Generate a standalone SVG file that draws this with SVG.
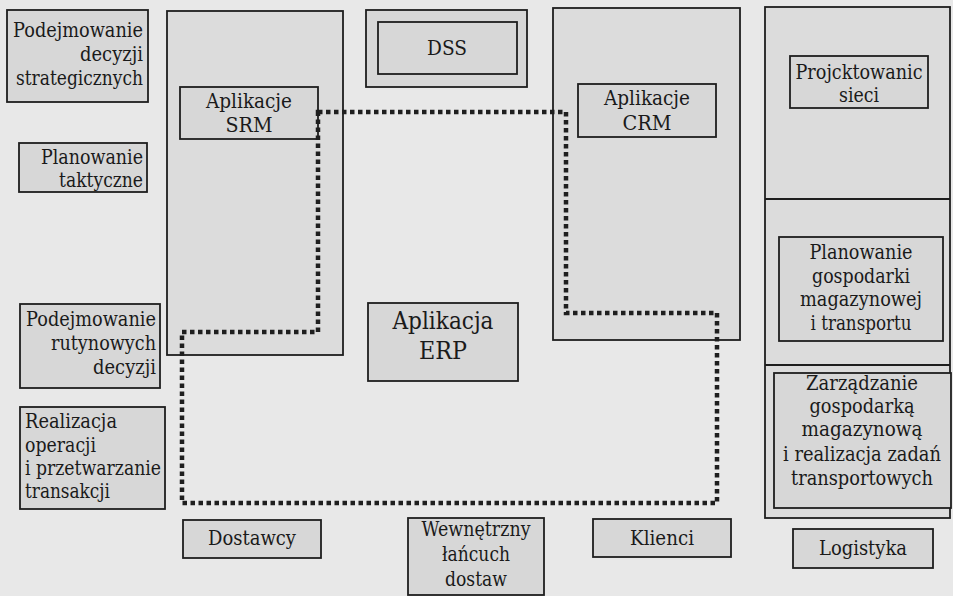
<svg xmlns="http://www.w3.org/2000/svg" width="953" height="596" viewBox="0 0 953 596">
<style>
.bg{fill:#e8e8e8}
.col{fill:#dcdcdc;stroke:#1e1e1e;stroke-width:1.8}
.box{fill:#d7d7d7;stroke:#1e1e1e;stroke-width:1.8}
text{font-family:"DejaVu Serif","Liberation Serif",serif;font-size:20px;fill:#1a1a1a}
.c{text-anchor:middle}
.e{text-anchor:end}
.big{font-size:23.5px}
.r{font-size:20px}
.dot{fill:none;stroke:#1e1e1e;stroke-width:4.5;stroke-dasharray:4.5 3.5}
</style>
<rect class="bg" x="0" y="0" width="953" height="596"/>

<g id="strategiczne">
<rect class="box" x="7" y="10" width="141" height="92"/>
<text class="e" x="143" y="37" textLength="130" lengthAdjust="spacingAndGlyphs">Podejmowanie</text>
<text class="e" x="143" y="61" textLength="63" lengthAdjust="spacingAndGlyphs">decyzji</text>
<text class="e" x="143" y="85" textLength="127" lengthAdjust="spacingAndGlyphs">strategicznych</text>
</g>
<g id="taktyczne">
<rect class="box" x="19" y="143" width="128" height="49"/>
<text class="e" x="143" y="164" textLength="102" lengthAdjust="spacingAndGlyphs">Planowanie</text>
<text class="e" x="143" y="187" textLength="84" lengthAdjust="spacingAndGlyphs">taktyczne</text>
</g>
<g id="rutynowe">
<rect class="box" x="20" y="304" width="140" height="84"/>
<text class="e" x="156" y="326" textLength="130" lengthAdjust="spacingAndGlyphs">Podejmowanie</text>
<text class="e" x="156" y="350" textLength="105" lengthAdjust="spacingAndGlyphs">rutynowych</text>
<text class="e" x="156" y="374" textLength="63" lengthAdjust="spacingAndGlyphs">decyzji</text>
</g>
<g id="realizacja">
<rect class="box" x="20" y="407" width="145" height="102"/>
<text x="25" y="428" textLength="92" lengthAdjust="spacingAndGlyphs">Realizacja</text>
<text x="25" y="452" textLength="71" lengthAdjust="spacingAndGlyphs">operacji</text>
<text x="25" y="475" textLength="136" lengthAdjust="spacingAndGlyphs">i przetwarzanie</text>
<text x="25" y="498" textLength="85" lengthAdjust="spacingAndGlyphs">transakcji</text>
</g>

<g id="srm-kolumna">
<rect class="col" x="167" y="11" width="176" height="344"/>
</g>
<g id="srm">
<rect class="box" x="180" y="87" width="138" height="52"/>
<text class="c" x="249" y="108" textLength="86" lengthAdjust="spacingAndGlyphs">Aplikacje</text>
<text class="c" x="249" y="132" textLength="47" lengthAdjust="spacingAndGlyphs">SRM</text>
</g>

<g id="dss">
<rect class="box" x="366" y="10" width="161" height="77"/>
<rect class="box" x="378" y="22" width="139" height="52"/>
<text class="c" x="447" y="55" textLength="40" lengthAdjust="spacingAndGlyphs">DSS</text>
</g>

<g id="crm-kolumna">
<rect class="col" x="553" y="8" width="187" height="332"/>
</g>
<g id="crm">
<rect class="box" x="578" y="84" width="138" height="53"/>
<text class="c" x="647" y="105" textLength="86" lengthAdjust="spacingAndGlyphs">Aplikacje</text>
<text class="c" x="647" y="130" textLength="49" lengthAdjust="spacingAndGlyphs">CRM</text>
</g>

<g id="erp">
<rect class="box" x="368" y="303" width="150" height="78"/>
<text class="c big" x="443" y="329" textLength="101" lengthAdjust="spacingAndGlyphs">Aplikacja</text>
<text class="c big" x="443" y="359" textLength="48" lengthAdjust="spacingAndGlyphs">ERP</text>
</g>

<g id="logistyka-kolumna">
<rect class="col" x="765" y="7" width="185" height="511"/>
<line x1="765" y1="199" x2="950" y2="199" stroke="#1e1e1e" stroke-width="1.8"/>
<line x1="765" y1="365" x2="950" y2="365" stroke="#1e1e1e" stroke-width="1.8"/>
</g>
<g id="projektowanie">
<rect class="box" x="790" y="56" width="138" height="52"/>
<text class="c" x="859" y="79" textLength="127" lengthAdjust="spacingAndGlyphs">Projcktowanic</text>
<text class="c" x="859" y="102" textLength="40" lengthAdjust="spacingAndGlyphs">sieci</text>
</g>
<g id="planowanie-gospodarki">
<rect class="box" x="779" y="237" width="164" height="104"/>
<text class="c" x="861" y="259" textLength="103" lengthAdjust="spacingAndGlyphs">Planowanie</text>
<text class="c" x="861" y="283" textLength="98" lengthAdjust="spacingAndGlyphs">gospodarki</text>
<text class="c" x="861" y="306" textLength="122" lengthAdjust="spacingAndGlyphs">magazynowej</text>
<text class="c" x="861" y="330" textLength="101" lengthAdjust="spacingAndGlyphs">i transportu</text>
</g>
<g id="zarzadzanie">
<rect class="box" x="774" y="373" width="177" height="135"/>
<text class="c r" x="862" y="390" textLength="112" lengthAdjust="spacingAndGlyphs">Zarządzanie</text>
<text class="c r" x="862" y="413" textLength="105" lengthAdjust="spacingAndGlyphs">gospodarką</text>
<text class="c r" x="862" y="436" textLength="121" lengthAdjust="spacingAndGlyphs">magazynową</text>
<text class="c r" x="862" y="461" textLength="158" lengthAdjust="spacingAndGlyphs">i realizacja zadań</text>
<text class="c r" x="862" y="485" textLength="142" lengthAdjust="spacingAndGlyphs">transportowych</text>
</g>

<g id="dostawcy">
<rect class="box" x="183" y="520" width="138" height="38"/>
<text class="c" x="252" y="545" textLength="88" lengthAdjust="spacingAndGlyphs">Dostawcy</text>
</g>
<g id="wewnetrzny">
<rect class="box" x="408" y="518" width="136" height="77"/>
<text class="c" x="476" y="536" textLength="109" lengthAdjust="spacingAndGlyphs">Wewnętrzny</text>
<text class="c" x="476" y="561" textLength="68" lengthAdjust="spacingAndGlyphs">łańcuch</text>
<text class="c" x="476" y="586" textLength="62" lengthAdjust="spacingAndGlyphs">dostaw</text>
</g>
<g id="klienci">
<rect class="box" x="593" y="519" width="138" height="38"/>
<text class="c" x="662" y="545" textLength="64" lengthAdjust="spacingAndGlyphs">Klienci</text>
</g>
<g id="logistyka">
<rect class="box" x="793" y="529" width="140" height="39"/>
<text class="c" x="863" y="555" textLength="88" lengthAdjust="spacingAndGlyphs">Logistyka</text>
</g>

<g id="connectors">
<path class="dot" d="M318,112 H566 V313 H717 V503 H182 V332 H318 Z"/>
</g>
</svg>
